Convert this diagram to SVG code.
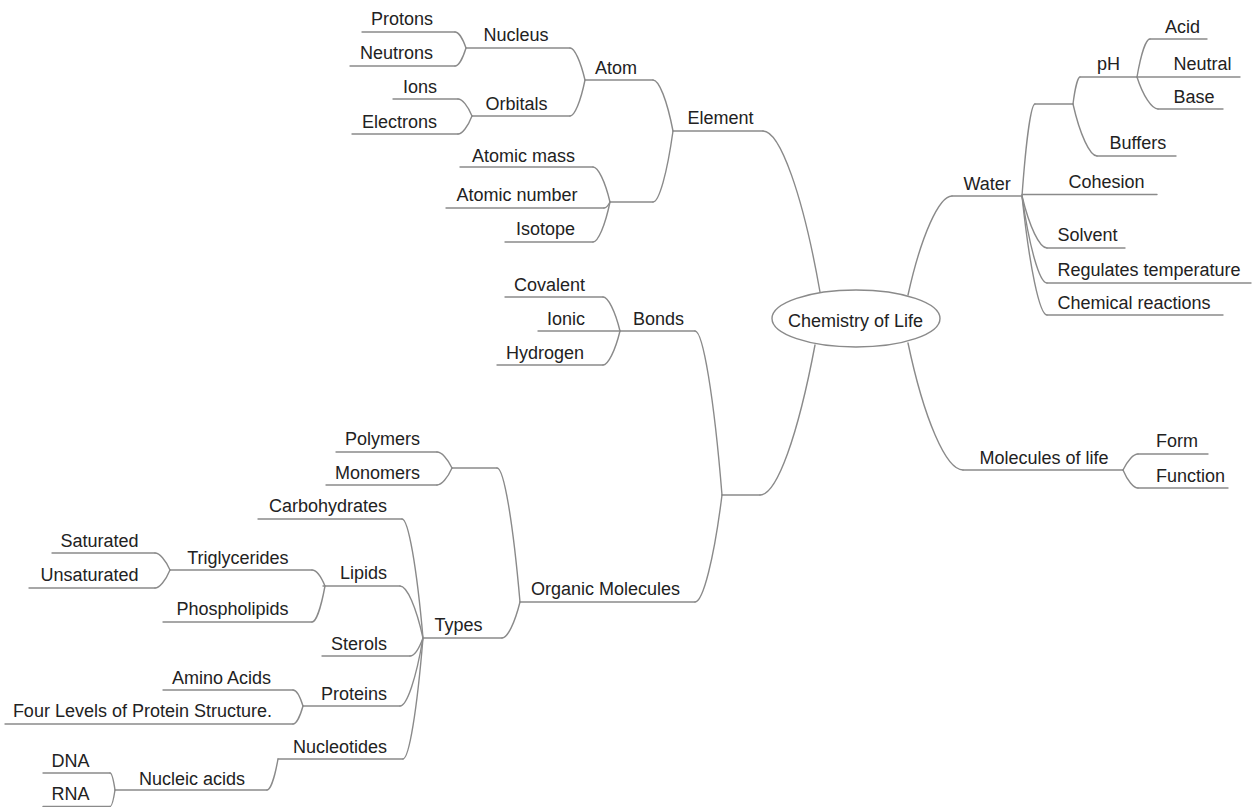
<svg xmlns="http://www.w3.org/2000/svg" width="1252" height="807" viewBox="0 0 1252 807">
<style>
.ul,.c{fill:none;stroke:#8a8a8a;stroke-width:1.4;stroke-linecap:round}
.t{font-family:"Liberation Sans",Arial,sans-serif;font-size:18px;fill:#222}
.e{text-anchor:end}
.m{text-anchor:middle}
</style>
<rect width="1252" height="807" fill="#fff"/>
<g id="connectors">
<path class="c" d="M820,292 C803,195 780,131 763,131"/>
<path class="c" d="M908,295 C921,236 939,196 952,196"/>
<path class="c" d="M815,345 C798,435 777,495 760,495"/>
<path class="c" d="M908,343 C924,419 946,470 963,470"/>
<path class="c" d="M673,131 C667,100 659,80 653,80"/>
<path class="c" d="M673,131 C667,174 659,202 653,202"/>
<path class="c" d="M585,80 C580.5,61 574.5,48 570,48"/>
<path class="c" d="M585,80 C580.5,102 574.5,116 570,116"/>
<path class="c" d="M466,48 C462.7,38.4 458.3,32 455,32"/>
<path class="c" d="M466,48 C462.7,58.8 458.3,66 455,66"/>
<path class="c" d="M472,116 C467.8,105.8 462.2,99 458,99"/>
<path class="c" d="M472,116 C467.8,126.8 462.2,134 458,134"/>
<path class="c" d="M610,202 C605,181 598,167 593,167"/>
<path class="c" d="M610,202 C608.2,205.6 605.8,208 604,208"/>
<path class="c" d="M610,202 C605,226 598,242 593,242"/>
<path class="c" d="M722,495 C714,397 703,331 695,331"/>
<path class="c" d="M722,495 C714,559 703,602 695,602"/>
<path class="c" d="M620,331 C615,310.6 608,297 603,297"/>
<path class="c" d="M620,331 C615,351.4 608,365 603,365"/>
<path class="c" d="M520,602 C513,522 504,468 497,468"/>
<path class="c" d="M520,602 C514.6,623.6 507.4,638 502,638"/>
<path class="c" d="M452,468 C447.5,458.4 441.5,452 437,452"/>
<path class="c" d="M452,468 C447.5,478.2 441.5,485 437,485"/>
<path class="c" d="M423,638 C416.7,566.6 408.3,519 402,519"/>
<path class="c" d="M423,638 C416,606.8 407,586 400,586"/>
<path class="c" d="M423,638 C419,648.8 414,656 410,656"/>
<path class="c" d="M423,638 C416,678.8 407,706 400,706"/>
<path class="c" d="M423,638 C417,710.6 409,759 403,759"/>
<path class="c" d="M325,586 C321,576.4 316,570 312,570"/>
<path class="c" d="M325,586 C321,607.6 316,622 312,622"/>
<path class="c" d="M170,570 C165.5,559.8 159.5,553 155,553"/>
<path class="c" d="M170,570 C165.5,580.8 159.5,588 155,588"/>
<path class="c" d="M303,706 C300,696.4 296,690 293,690"/>
<path class="c" d="M303,706 C300,716.8 296,724 293,724"/>
<path class="c" d="M278,759 C274.7,777.6 270.3,790 267,790"/>
<path class="c" d="M115,790 C113.5,779.8 111.5,773 110,773"/>
<path class="c" d="M115,790 C113.5,799.9 111.5,806.5 110,806.5"/>
<path class="c" d="M1022,196 C1026,141 1031,104 1035,104"/>
<path class="c" d="M1022,196 C1029.5,227 1039.5,248 1047,248"/>
<path class="c" d="M1022,196 C1029.5,248 1039.5,283 1047,283"/>
<path class="c" d="M1022,196 C1029.5,267 1039.5,315 1047,315"/>
<path class="c" d="M1073,104 C1075,88 1078,77 1080,77"/>
<path class="c" d="M1073,104 C1080,135 1090,156 1097,156"/>
<path class="c" d="M1137,77 C1141,54 1146,39 1150,39"/>
<path class="c" d="M1137,77 C1143,96 1152,109 1158,109"/>
<path class="c" d="M1123,470 C1127.5,460.4 1133.5,454 1138,454"/>
<path class="c" d="M1123,470 C1127.5,480.8 1133.5,488 1138,488"/>
</g>
<g id="center">
<ellipse cx="856" cy="318.5" rx="84" ry="28.5" fill="#fff" stroke="#8a8a8a" stroke-width="1.4"/>
<text class="t m" x="855.5" y="326.5">Chemistry of Life</text>
</g>
<g id="element"><line class="ul" x1="673" y1="131" x2="763" y2="131"/><text class="t e" x="753.5" y="124">Element</text></g>
<g id="atom"><line class="ul" x1="585" y1="80" x2="653" y2="80"/><text class="t e" x="637" y="74">Atom</text></g>
<g id="nucleus"><line class="ul" x1="466" y1="48" x2="570" y2="48"/><text class="t e" x="548.5" y="41">Nucleus</text></g>
<g id="protons"><line class="ul" x1="362" y1="32" x2="455" y2="32"/><text class="t e" x="433" y="25">Protons</text></g>
<g id="neutrons"><line class="ul" x1="350" y1="66" x2="455" y2="66"/><text class="t e" x="433" y="58.5">Neutrons</text></g>
<g id="orbitals"><line class="ul" x1="472" y1="116" x2="570" y2="116"/><text class="t e" x="547.5" y="110">Orbitals</text></g>
<g id="ions"><line class="ul" x1="393" y1="99" x2="458" y2="99"/><text class="t e" x="437" y="93">Ions</text></g>
<g id="electrons"><line class="ul" x1="352" y1="134" x2="458" y2="134"/><text class="t e" x="437" y="127.5">Electrons</text></g>
<g id="atomic-props"><line class="ul" x1="610" y1="202" x2="653" y2="202"/></g>
<g id="atomic-mass"><line class="ul" x1="460" y1="167" x2="593" y2="167"/><text class="t e" x="575" y="161.5">Atomic mass</text></g>
<g id="atomic-number"><line class="ul" x1="446" y1="208" x2="604" y2="208"/><text class="t e" x="577.5" y="201">Atomic number</text></g>
<g id="isotope"><line class="ul" x1="505" y1="242" x2="593" y2="242"/><text class="t e" x="575" y="235">Isotope</text></g>
<g id="hub"><line class="ul" x1="722" y1="495" x2="760" y2="495"/></g>
<g id="bonds"><line class="ul" x1="620" y1="331" x2="695" y2="331"/><text class="t e" x="684" y="325">Bonds</text></g>
<g id="covalent"><line class="ul" x1="505" y1="297" x2="603" y2="297"/><text class="t e" x="585" y="290.5">Covalent</text></g>
<g id="ionic"><line class="ul" x1="538" y1="331" x2="620" y2="331"/><text class="t e" x="585" y="325">Ionic</text></g>
<g id="hydrogen"><line class="ul" x1="497" y1="365" x2="603" y2="365"/><text class="t e" x="584" y="358.5">Hydrogen</text></g>
<g id="organic"><line class="ul" x1="520" y1="602" x2="695" y2="602"/><text class="t e" x="680" y="595">Organic Molecules</text></g>
<g id="poly-group"><line class="ul" x1="452" y1="468" x2="497" y2="468"/></g>
<g id="polymers"><line class="ul" x1="336" y1="452" x2="437" y2="452"/><text class="t e" x="420" y="445">Polymers</text></g>
<g id="monomers"><line class="ul" x1="326" y1="485" x2="437" y2="485"/><text class="t e" x="420" y="478.5">Monomers</text></g>
<g id="types"><line class="ul" x1="423" y1="638" x2="502" y2="638"/><text class="t e" x="482.5" y="631">Types</text></g>
<g id="carbohydrates"><line class="ul" x1="258" y1="519" x2="402" y2="519"/><text class="t e" x="387" y="512">Carbohydrates</text></g>
<g id="lipids"><line class="ul" x1="323" y1="586" x2="400" y2="586"/><text class="t e" x="387" y="578.5">Lipids</text></g>
<g id="triglycerides"><line class="ul" x1="170" y1="570" x2="312" y2="570"/><text class="t e" x="288.5" y="563.5">Triglycerides</text></g>
<g id="saturated"><line class="ul" x1="52" y1="553" x2="155" y2="553"/><text class="t e" x="138.5" y="547">Saturated</text></g>
<g id="unsaturated"><line class="ul" x1="29" y1="588" x2="155" y2="588"/><text class="t e" x="138.5" y="581">Unsaturated</text></g>
<g id="phospholipids"><line class="ul" x1="163" y1="622" x2="312" y2="622"/><text class="t e" x="288.5" y="615">Phospholipids</text></g>
<g id="sterols"><line class="ul" x1="322" y1="656" x2="410" y2="656"/><text class="t e" x="387" y="649.5">Sterols</text></g>
<g id="proteins"><line class="ul" x1="303" y1="706" x2="400" y2="706"/><text class="t e" x="387" y="699.5">Proteins</text></g>
<g id="amino-acids"><line class="ul" x1="163" y1="690" x2="293" y2="690"/><text class="t e" x="271" y="683.5">Amino Acids</text></g>
<g id="four-levels"><line class="ul" x1="5" y1="724" x2="293" y2="724"/><text class="t e" x="272" y="717">Four Levels of Protein Structure.</text></g>
<g id="nucleotides"><line class="ul" x1="278" y1="759" x2="403" y2="759"/><text class="t e" x="387" y="753">Nucleotides</text></g>
<g id="nucleic-acids"><line class="ul" x1="115" y1="790" x2="267" y2="790"/><text class="t e" x="245" y="785">Nucleic acids</text></g>
<g id="dna"><line class="ul" x1="43" y1="773" x2="110" y2="773"/><text class="t e" x="89.5" y="767">DNA</text></g>
<g id="rna"><line class="ul" x1="43" y1="806.5" x2="110" y2="806.5"/><text class="t e" x="89.5" y="800">RNA</text></g>
<g id="water"><line class="ul" x1="952" y1="196" x2="1022" y2="196"/><text class="t" x="963.5" y="189.5">Water</text></g>
<g id="water-ph-group"><line class="ul" x1="1035" y1="104" x2="1073" y2="104"/></g>
<g id="ph"><line class="ul" x1="1080" y1="77" x2="1137" y2="77"/><text class="t" x="1097" y="70">pH</text></g>
<g id="acid"><line class="ul" x1="1150" y1="39" x2="1207" y2="39"/><text class="t" x="1165" y="32.5">Acid</text></g>
<g id="neutral"><line class="ul" x1="1137" y1="77" x2="1240" y2="77"/><text class="t" x="1173.5" y="70">Neutral</text></g>
<g id="base"><line class="ul" x1="1158" y1="109" x2="1223" y2="109"/><text class="t" x="1173.5" y="103">Base</text></g>
<g id="buffers"><line class="ul" x1="1097" y1="156" x2="1176" y2="156"/><text class="t" x="1109.5" y="148.5">Buffers</text></g>
<g id="cohesion"><line class="ul" x1="1022" y1="194.5" x2="1157" y2="194.5"/><text class="t" x="1068.5" y="188">Cohesion</text></g>
<g id="solvent"><line class="ul" x1="1047" y1="248" x2="1125" y2="248"/><text class="t" x="1057.5" y="241">Solvent</text></g>
<g id="regulates"><line class="ul" x1="1047" y1="283" x2="1251" y2="283"/><text class="t" x="1057.5" y="275.5">Regulates temperature</text></g>
<g id="chemical"><line class="ul" x1="1047" y1="315" x2="1223" y2="315"/><text class="t" x="1057.5" y="308.5">Chemical reactions</text></g>
<g id="molecules-of-life"><line class="ul" x1="963" y1="470" x2="1123" y2="470"/><text class="t" x="979.5" y="463.5">Molecules of life</text></g>
<g id="form"><line class="ul" x1="1138" y1="454" x2="1208" y2="454"/><text class="t" x="1156" y="447">Form</text></g>
<g id="function"><line class="ul" x1="1138" y1="488" x2="1228" y2="488"/><text class="t" x="1156" y="482">Function</text></g>
</svg>
